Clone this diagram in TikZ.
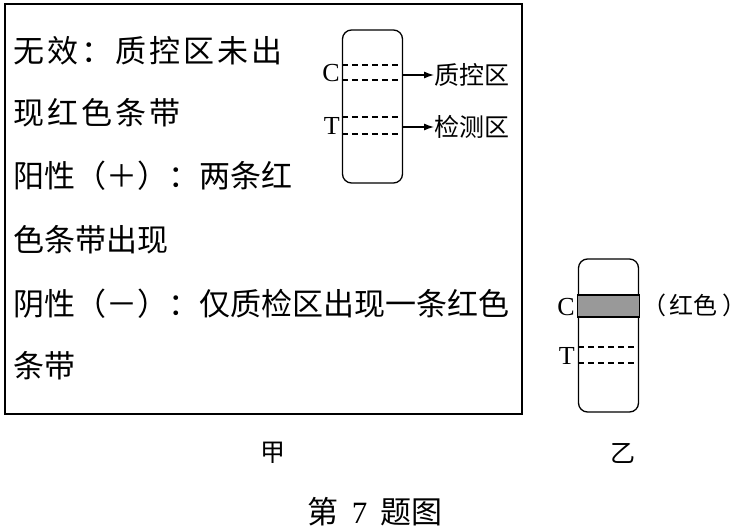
\documentclass[tikz,border=0pt]{standalone}
\usepackage{fontspec}
\setmainfont{Liberation Serif}
\newfontfamily\cjk{Noto Sans CJK SC}
\newfontfamily\cjkwide[LetterSpace=10]{Noto Sans CJK SC}
\usepackage{tikz}
\usetikzlibrary{arrows.meta,positioning}

\begin{document}
\begin{tikzpicture}[x=1pt, y=-1pt,
  txt/.style={anchor=west, inner sep=0pt, font=\cjk\fontsize{31}{31}\selectfont},
  widetxt/.style={txt, font=\cjkwide\fontsize{31}{31}\selectfont},
  strip/.style={draw, rounded corners=9pt, line width=1.3pt, minimum width=60pt, minimum height=153pt, inner sep=0pt},
  band/.style={line width=1.3pt, dash pattern=on 6pt off 4pt},
  lbl/.style={anchor=west, inner sep=0pt, font=\cjk\fontsize{25}{25}\selectfont},
  letter/.style={anchor=east, inner sep=0pt, font=\fontsize{26}{26}\selectfont},
  arrow/.style={-{Latex[length=10pt,width=7pt]}, line width=1.2pt}
]
\useasboundingbox (0,0) rectangle (746,530);
\node[draw, line width=1.6pt, minimum width=517pt, minimum height=410pt, inner sep=0pt] (frame) at (263.5,209) {};
\node[widetxt] (l1) at (13,51) {无效：质控区未出};
\node[widetxt] (l2) at (13,113) {现红色条带};
\node[txt] (l3) at (13,176) {阳性（＋）：两条红};
\node[txt] (l4) at (13,240) {色条带出现};
\node[txt] (l5) at (13,304) {阴性（－）：仅质检区出现一条红色};
\node[txt] (l6) at (13,366) {条带};
\node[strip] (stripA) at (372.5,106.5) {};
\foreach \yy in {65,80,117,134}
  \draw[band] (stripA.west |- 0,\yy) -- (stripA.east |- 0,\yy);
\node[letter] (cA) at (340,73) {C};
\node[letter] (tA) at (340,126) {T};
\node[lbl] (ctrl) at (434,75) {质控区};
\node[lbl] (test) at (434,127) {检测区};
\draw[arrow] (stripA.east |- ctrl) -- (ctrl.west);
\draw[arrow] (stripA.east |- test) -- (test.west);
\node[strip] (stripB) at (608.5,335.5) {};
\draw[fill=black!40, line width=1.1pt] (stripB.west |- 0,295) rectangle (stripB.east |- 0,317);
\foreach \yy in {347,363}
  \draw[band] (stripB.west |- 0,\yy) -- (stripB.east |- 0,\yy);
\node[letter] (cB) at (575,307) {C};
\node[letter] (tB) at (575,356) {T};
\node[lbl, anchor=center, font=\cjk\fontsize{24}{24}\selectfont] (red) at (694,305) {（\,红色\,）};
\node[inner sep=0pt, font=\cjk\fontsize{25}{25}\selectfont] (jia) at (273,453) {甲};
\node[inner sep=0pt, font=\cjk\fontsize{25}{25}\selectfont] (yi) at (623,453) {乙};
\node[inner sep=0pt, font=\fontsize{31}{31}\selectfont] (cap) at (375,512) {{\cjk 第}\, 7 \,{\cjk 题图}};
\end{tikzpicture}
\end{document}
